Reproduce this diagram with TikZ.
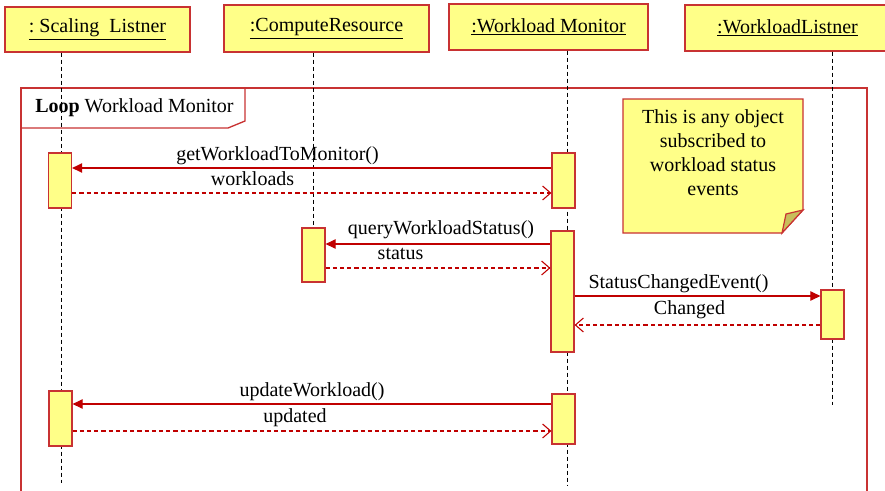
\documentclass[tikz,border=0pt]{standalone}
\usepackage{fontspec}
\setmainfont{Liberation Serif}
\usetikzlibrary{arrows.meta}
\definecolor{boxfill}{RGB}{255,255,136}
\definecolor{boxline}{RGB}{200,50,50}
\definecolor{msgred}{RGB}{192,0,0}
\definecolor{foldcol}{RGB}{200,190,90}
\begin{document}
\begin{tikzpicture}[x=0.75pt,y=-0.75pt,
  font=\fontsize{15}{18}\selectfont,
  header/.style={draw=boxline, fill=boxfill, line width=1pt, inner sep=0pt, minimum height=34.5pt},
  act/.style={draw=boxline, fill=boxfill, line width=0.9pt, inner sep=0pt, minimum width=17.25pt},
  lifeline/.style={draw=black, line width=0.75pt, dash pattern=on 3pt off 2.25pt},
  callmsg/.style={draw=msgred, line width=0.8pt, -{Triangle[length=7.5pt,width=7pt]}},
  retmsg/.style={draw=msgred, line width=0.8pt, dash pattern=on 3.2pt off 2.2pt, -{Straight Barb[length=6pt,width=10.5pt,line width=0.8pt]}},
  msglabel/.style={inner sep=0pt, anchor=base},
  frameline/.style={draw=boxline, line width=1pt}
]
\useasboundingbox (0,0) rectangle (885,490);
\clip (0,0) rectangle (885,490);

% loop frame
\draw[frameline] (21,495) -- (21,88) -- (867,88) -- (867,495);
\draw[frameline] (21,128) -- (228,128) -- (245,121) -- (245,88);
\node[inner sep=0pt, anchor=base west] (looplabel) at (35,112) {\textbf{Loop} Workload Monitor};

% headers
\node[header, minimum width=138.75pt, minimum height=33.75pt] (h1) at (97.5,29.5) {\underline{:\ Scaling\ \ Listner}};
\node[header, minimum width=153.75pt, minimum height=35.25pt] (h2) at (326.5,28.5) {\underline{:ComputeResource}};
\node[header, minimum width=149.25pt, minimum height=34.5pt] (h3) at (548.5,27) {\underline{:Workload Monitor}};
\node[header, minimum width=153.75pt, minimum height=34.5pt] (h4) at (787.5,28) {\underline{:WorkloadListner}};

% lifeline ends
\coordinate (e1) at (61,483);
\coordinate (e2) at (313,228);
\coordinate (e3) at (567,485);
\coordinate (e4) at (832,405);

\draw[lifeline] (h1.south -| e1) -- (e1);
\draw[lifeline] (h2.south -| e2) -- (e2);
\draw[lifeline] (h3.south -| e3) -- (e3);
\draw[lifeline] (h4.south -| e4) -- (e4);

% activations
\node[act, minimum height=41.25pt] (s1) at (60,180.5) {};
\node[act, minimum height=41.25pt] (m1) at (563.5,180.5) {};
\node[act, minimum height=40.5pt] (c1) at (313.5,255) {};
\node[act, minimum height=90.75pt] (m2) at (562.5,291.5) {};
\node[act, minimum height=36.75pt] (w1) at (832.5,314.5) {};
\node[act, minimum height=41.25pt] (s2) at (60.5,418.5) {};
\node[act, minimum height=37.5pt] (m3) at (563.5,419) {};

% note
\draw[draw=boxline, fill=boxfill, line width=0.9pt] (623,99) -- (803,99) -- (803,210) -- (782,233) -- (623,233) -- cycle;
\draw[draw=boxline, fill=foldcol, line width=0.9pt] (803,210) -- (782,233) -- (786,214) -- cycle;
\node[inner sep=0pt, align=center, font=\fontsize{15}{18.2}\selectfont] (note) at (713,152.7) {This is any object\\subscribed to\\workload status\\events};

% messages
\draw[callmsg] (m1.west |- 0,168) -- (s1.east |- 0,168);
\node[msglabel] (t1) at (277.5,160) {getWorkloadToMonitor()};
\draw[retmsg] (s1.east |- 0,193) -- (m1.west |- 0,193);
\node[msglabel] (t2) at (252.5,185) {workloads};

\draw[callmsg] (m2.west |- 0,244) -- (c1.east |- 0,244);
\node[msglabel] (t3) at (441,234) {queryWorkloadStatus()};
\draw[retmsg] (c1.east |- 0,268) -- (m2.west |- 0,268);
\node[msglabel] (t4) at (400.5,259) {status};

\draw[callmsg] (m2.east |- 0,296) -- (w1.west |- 0,296);
\node[msglabel] (t5) at (678.5,288) {StatusChangedEvent()};
\draw[retmsg] (w1.west |- 0,325) -- (m2.east |- 0,325);
\node[msglabel] (t6) at (689.5,314) {Changed};

\draw[callmsg] (m3.west |- 0,404) -- (s2.east |- 0,404);
\node[msglabel] (t7) at (312,396) {updateWorkload()};
\draw[retmsg] (s2.east |- 0,431) -- (m3.west |- 0,431);
\node[msglabel] (t8) at (295,422) {updated};
\end{tikzpicture}
\end{document}
